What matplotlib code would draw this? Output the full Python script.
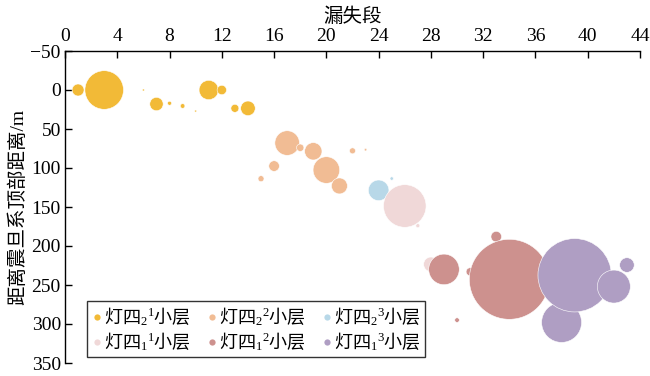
import matplotlib
matplotlib.use("Agg")
import matplotlib.pyplot as plt
from matplotlib.lines import Line2D
from matplotlib.font_manager import FontProperties

plt.rcParams['font.family'] = ['Liberation Serif', 'Noto Sans CJK SC', 'DejaVu Sans']
plt.rcParams['mathtext.fontset'] = 'custom'
plt.rcParams['mathtext.rm'] = 'Liberation Serif'
plt.rcParams['mathtext.it'] = 'Liberation Serif'

# ---- data ----
series_names = ['灯四$_2$$^1$小层', '灯四$_2$$^2$小层', '灯四$_2$$^3$小层',
                '灯四$_1$$^1$小层', '灯四$_1$$^2$小层', '灯四$_1$$^3$小层']
series_colors = ['#F2BA37', '#F1BC94', '#B8D8E8', '#F0D8D8', '#CD918E', '#AF9EC3']

x_d21 = [1, 3, 6, 7, 8, 9, 10, 11, 12, 13, 14]
y_d21 = [0, 0, 0, 18, 17, 20.5, 27, 0, 0, 23.5, 23.5]
r_d21 = [6, 19.3, 1, 6.7, 2, 2.3, 1, 9.7, 4.7, 4, 7.3]

x_d22 = [15, 16, 17, 18, 19, 20, 21, 22, 23]
y_d22 = [113.7, 97.5, 68, 74, 78.6, 102.6, 123, 78, 76.5]
r_d22 = [3, 5.3, 12.3, 3.7, 8.7, 13.3, 8, 3, 1.3]

x_d23 = [24, 25]
y_d23 = [128.6, 113.5]
r_d23 = [10.3, 1.7]

x_d11 = [26, 27, 28]
y_d11 = [148.7, 174, 223.5]
r_d11 = [21.3, 2, 7.3]

x_d12 = [29, 30, 31, 33, 34]
y_d12 = [230, 295, 233, 188, 242.7]
r_d12 = [15.3, 2.3, 4, 5.3, 40]

x_d13 = [38, 39, 42, 43]
y_d13 = [298, 237.5, 252, 224.4]
r_d13 = [20, 36.7, 16.5, 7.3]

xs = [x_d21, x_d22, x_d23, x_d11, x_d12, x_d13]
ys = [y_d21, y_d22, y_d23, y_d11, y_d12, y_d13]
rs = [r_d21, r_d22, r_d23, r_d11, r_d12, r_d13]

x_ticks = list(range(0, 45, 4))
y_ticks = list(range(-50, 351, 50))

# ---- figure ----
DPI = 100
fig = plt.figure(figsize=(6.5, 3.76), dpi=DPI)
ax = fig.add_axes([65/650, 1-363/376, (640-65)/650, (363-51)/376])

px2pt = 72.0 / DPI
for i in range(6):
    sizes = [(2 * r * px2pt) ** 2 for r in rs[i]]
    ax.scatter(xs[i], ys[i], s=sizes, color=series_colors[i],
               edgecolors='white', linewidths=0.4, zorder=2 + i)

ax.set_xlim(0, 44)
ax.set_ylim(350, -50)
ax.set_xticks(x_ticks)
ax.set_yticks(y_ticks)
ax.xaxis.set_ticks_position('top')
ax.xaxis.set_label_position('top')
ax.tick_params(axis='both', direction='in', length=5, width=1, labelsize=14, pad=3)
ax.tick_params(axis='x', pad=4)
for sp in ['right', 'bottom']:
    ax.spines[sp].set_visible(False)
for sp in ['left', 'top']:
    ax.spines[sp].set_linewidth(1)
ax.set_xlabel('漏失段', fontsize=14, labelpad=5)
ax.set_ylabel('距离震旦系顶部距离/m', fontsize=14, labelpad=2)

# Legend: row1 = 灯四2 series, row2 = 灯四1 series (ncol fills column-wise)
handles = [Line2D([], [], marker='o', linestyle='none', markersize=4.5,
                  markerfacecolor=c, markeredgecolor='none') for c in series_colors]
order = [0, 3, 1, 4, 2, 5]
leg_font = FontProperties(family='Noto Sans CJK SC', size=13)
leg = ax.legend([handles[k] for k in order], [series_names[k] for k in order],
                ncol=3, loc='lower left', bbox_to_anchor=(0.038, 0.019),
                borderaxespad=0, prop=leg_font, frameon=True, fancybox=False,
                handlelength=0.6, handletextpad=0.1, columnspacing=0.85,
                labelspacing=0.1, borderpad=0.25)
leg.get_frame().set_edgecolor('black')
leg.get_frame().set_linewidth(1)
leg.set_zorder(20)

fig.savefig('out.png', dpi=DPI)
